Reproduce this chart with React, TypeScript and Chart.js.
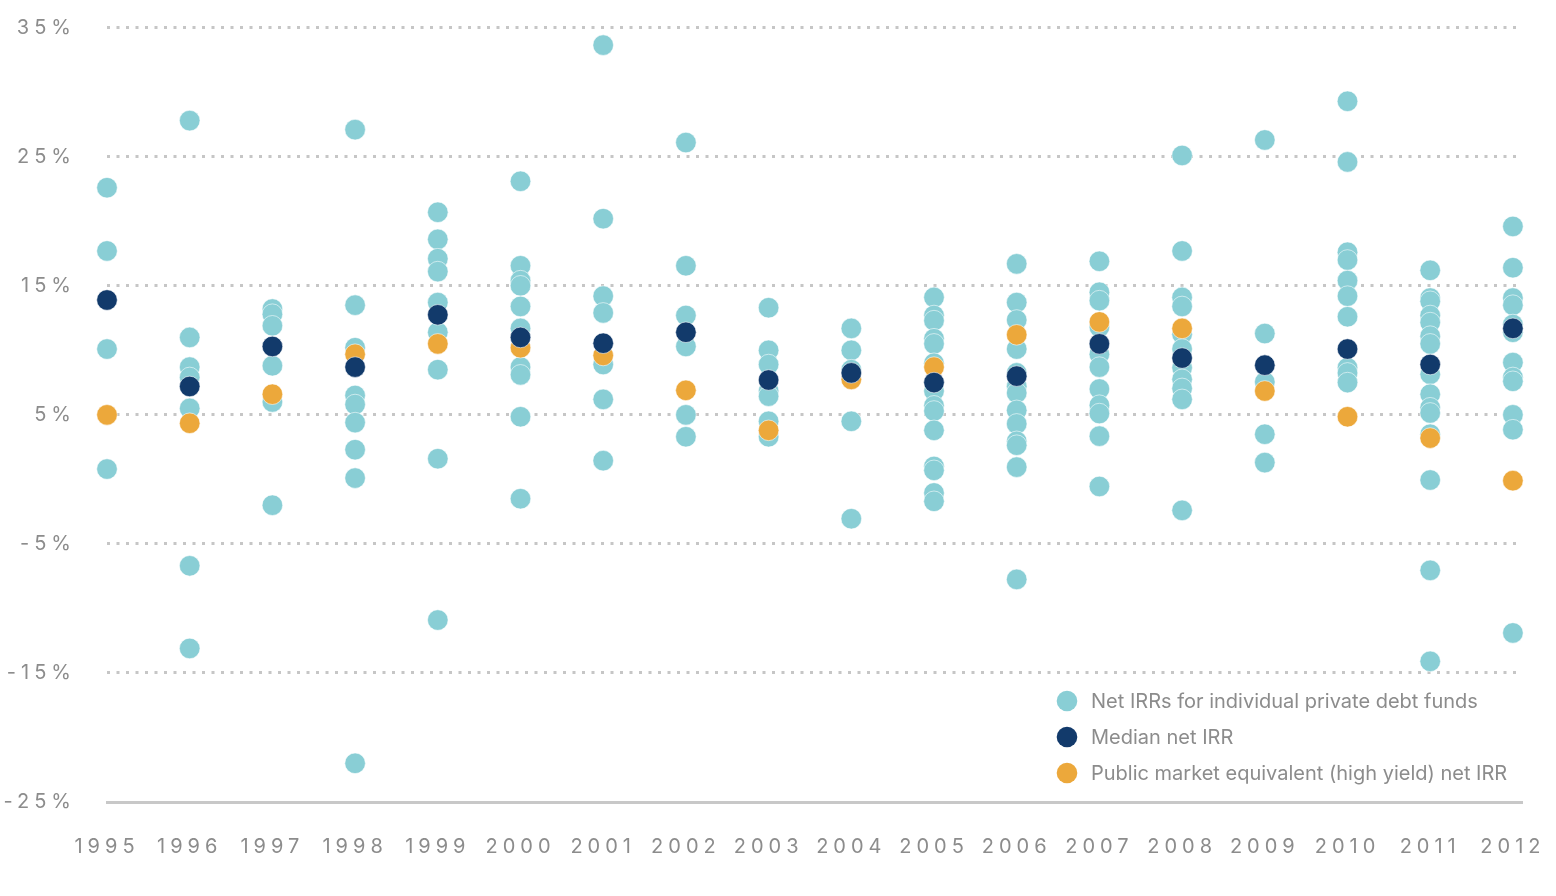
import { useEffect, useRef } from 'react';
import { Chart, registerables } from 'chart.js';

Chart.register(...registerables);

const YEARS = [1995, 1996, 1997, 1998, 1999, 2000, 2001, 2002, 2003, 2004, 2005, 2006, 2007, 2008, 2009, 2010, 2011, 2012];

// net IRRs of the individual funds, one list per vintage year
const FUND_IRRS: number[][] = [
  [22.6, 17.7, 10.1, 0.8],
  [27.8, 11.0, 8.7, 7.9, 5.5, -6.7, -13.1],
  [13.2, 12.8, 11.9, 8.8, 6.0, -2.0],
  [27.1, 13.5, 10.2, 6.5, 5.8, 4.4, 2.3, 0.1, -22.0],
  [20.7, 18.6, 17.1, 16.1, 13.7, 11.4, 8.5, 1.6, -10.9],
  [23.1, 16.55, 15.4, 15.0, 13.4, 11.7, 8.7, 8.1, 4.85, -1.5],
  [33.65, 20.2, 14.2, 12.9, 8.9, 6.2, 1.45],
  [26.1, 16.55, 12.7, 10.3, 5.0, 3.3],
  [13.3, 10.0, 8.9, 6.85, 6.45, 4.5, 3.3],
  [11.7, 10.0, 8.5, 4.5, -3.05],
  [14.1, 12.7, 12.3, 10.9, 10.5, 9.0, 6.85, 5.7, 5.3, 3.8, 1.0, 0.7, -1.05, -1.7],
  [16.7, 13.7, 12.35, 10.1, 8.25, 7.2, 6.7, 5.35, 4.3, 2.95, 2.65, 0.95, -7.75],
  [16.9, 14.5, 13.85, 11.8, 9.7, 8.7, 7.0, 5.75, 5.1, 3.35, -0.55],
  [25.1, 17.7, 14.1, 13.4, 11.25, 10.1, 8.65, 7.75, 7.05, 6.2, -2.4],
  [26.3, 11.3, 7.55, 3.5, 1.3],
  [29.3, 24.6, 17.6, 17.0, 15.4, 14.2, 12.6, 8.65, 8.25, 7.5],
  [16.2, 14.05, 13.8, 12.7, 12.15, 11.1, 10.5, 8.15, 6.6, 5.55, 5.15, 3.5, -0.05, -7.05, -14.1],
  [19.6, 16.4, 14.05, 13.5, 12.0, 11.4, 9.05, 7.9, 7.6, 5.0, 3.85, -11.9],
];

const MEDIAN_IRR = [13.9, 7.2, 10.3, 8.7, 12.75, 11.0, 10.55, 11.4, 7.7, 8.25, 7.5, 8.0, 10.5, 9.4, 8.85, 10.1, 8.9, 11.7];
const PME_IRR = [5.0, 4.35, 6.6, 9.7, 10.5, 10.2, 9.6, 6.9, 3.8, 7.75, 8.7, 11.2, 12.2, 11.7, 6.85, 4.85, 3.2, -0.1];

const Y_TICKS = [-25, -15, -5, 5, 15, 25, 35];

const TEAL = '#89ced5';
const NAVY = '#123a6b';
const ORANGE = '#eca83b';
const TEXT = '#8c8c8c';
const FONT = 'Inter, "Noto Sans", sans-serif';

const fundPoints = YEARS.flatMap((year, i) => FUND_IRRS[i].map((y) => ({ x: year, y })));
const medianPoints = YEARS.map((year, i) => ({ x: year, y: MEDIAN_IRR[i] }));
const pmePoints = YEARS.map((year, i) => ({ x: year, y: PME_IRR[i] }));

// tracked-out tick labels, plain text for the legend
const spacingPlugin = {
  id: 'letterSpacing',
  beforeDraw(chart: any) {
    chart.ctx.letterSpacing = '5px';
  },
  beforeDatasetsDraw(chart: any) {
    chart.ctx.letterSpacing = '0px';
  },
};

const legendPlugin = {
  id: 'cornerLegend',
  afterDraw(chart: any) {
    const { ctx, chartArea } = chart;
    const x = chartArea.right - 455;
    ctx.save();
    ctx.letterSpacing = '0px';
    ctx.font = `20px ${FONT}`;
    ctx.textBaseline = 'middle';
    chart.data.datasets.forEach((ds: any, i: number) => {
      const y = chartArea.bottom - 101 + i * 36;
      ctx.beginPath();
      ctx.arc(x, y, 10.3, 0, Math.PI * 2);
      ctx.fillStyle = ds.backgroundColor;
      ctx.fill();
      ctx.fillStyle = TEXT;
      ctx.fillText(ds.label, x + 24, y + 1);
    });
    ctx.restore();
  },
};

export default function App() {
  const canvasRef = useRef<HTMLCanvasElement>(null);

  useEffect(() => {
    if (!canvasRef.current) return;

    const pointStyle = {
      pointRadius: 10.3,
      pointHoverRadius: 10.3,
      pointBorderWidth: 0.8,
      pointBorderColor: 'rgba(255,255,255,0.7)',
      clip: false as const,
    };

    const chart = new Chart(canvasRef.current, {
      type: 'scatter',
      data: {
        datasets: [
          { label: 'Net IRRs for individual private debt funds', data: fundPoints, backgroundColor: TEAL, order: 3, ...pointStyle },
          { label: 'Median net IRR', data: medianPoints, backgroundColor: NAVY, order: 1, ...pointStyle },
          { label: 'Public market equivalent (high yield) net IRR', data: pmePoints, backgroundColor: ORANGE, order: 2, ...pointStyle },
        ],
      },
      options: {
        animation: false,
        responsive: true,
        maintainAspectRatio: false,
        layout: { padding: { top: 27.7, right: 34, bottom: 34, left: 0 } },
        plugins: {
          legend: { display: false },
          tooltip: { enabled: false },
        },
        scales: {
          x: {
            type: 'linear',
            min: 1995,
            max: 2012.11,
            afterBuildTicks: (scale: any) => {
              scale.ticks = YEARS.map((value) => ({ value }));
            },
            afterFit: (scale: any) => {
              scale.height = 60;
              scale.paddingLeft = 0;
              scale.paddingRight = 0;
            },
            grid: { display: false, drawTicks: false },
            border: { display: true, color: '#c8c8c8', width: 3 },
            ticks: {
              color: TEXT,
              font: { family: FONT, size: 20 },
              padding: 33,
              autoSkip: false,
              maxRotation: 0,
              callback: (value: any) => String(value),
            },
          },
          y: {
            min: -25,
            max: 35,
            afterBuildTicks: (scale: any) => {
              scale.ticks = Y_TICKS.map((value) => ({ value }));
            },
            afterFit: (scale: any) => {
              scale.width = 107;
              scale.paddingTop = 0;
              scale.paddingBottom = 0;
            },
            grid: {
              color: (ctx: any) => (ctx.tick && ctx.tick.value === -25 ? 'rgba(0,0,0,0)' : '#c6c6c6'),
              lineWidth: 3,
              drawTicks: false,
            },
            border: { display: false, dash: [3, 6.5] },
            ticks: {
              color: TEXT,
              font: { family: FONT, size: 20 },
              padding: 31,
              callback: (value: any) => `${value}%`,
            },
          },
        },
      },
      plugins: [spacingPlugin, legendPlugin],
    });

    return () => {
      chart.destroy();
    };
  }, []);

  return (
    <div style={{ position: 'fixed', left: 0, top: 0, width: 1556, height: 896, background: '#fff' }}>
      <canvas ref={canvasRef} />
    </div>
  );
}
